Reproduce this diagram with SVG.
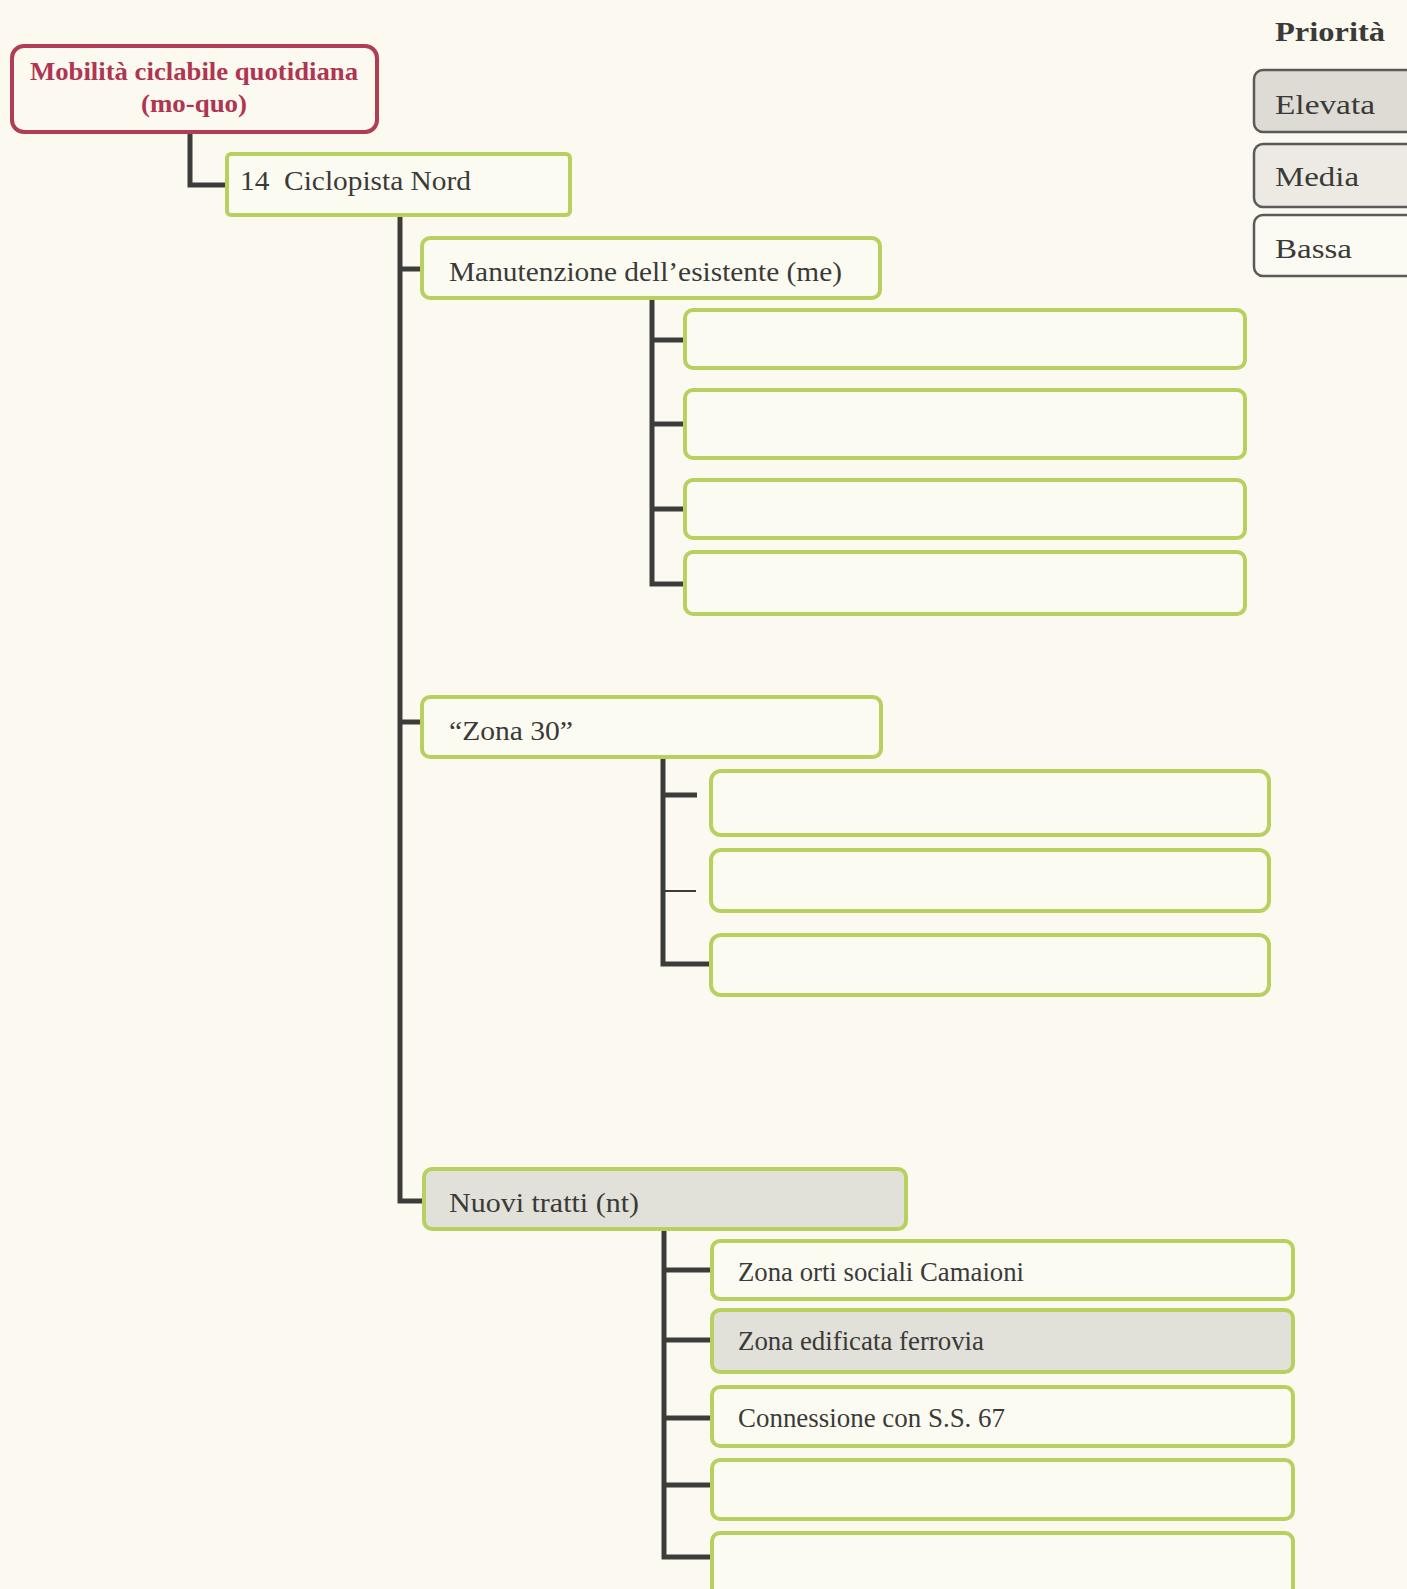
<svg xmlns="http://www.w3.org/2000/svg" width="1407" height="1589" viewBox="0 0 1407 1589">
  <style>
    .bg { fill: #fcfaf0; }
    .node { fill: #fcfbf2; stroke: #b8d060; stroke-width: 4; }
    .node.grey { fill: #e1e0d9; }
    .root { fill: #fcfaf0; stroke: #b23c58; stroke-width: 4; }
    .legend { stroke: #5a5a58; stroke-width: 2.5; }
    .lbl { font-family: "Liberation Serif", "Times New Roman", serif; font-size: 28px; fill: #3a3a38; }
    .rootlbl { font-family: "Liberation Serif", "Times New Roman", serif; font-size: 25px; font-weight: bold; fill: #b03552; }
    .conn { fill: none; stroke: #3c3c3a; stroke-width: 5; stroke-linecap: butt; stroke-linejoin: miter; }
    .thin { stroke-width: 2; }
  </style>

  <rect class="bg" x="0" y="0" width="1407" height="1589"/>

  <!-- connectors -->
  <g id="connectors">
    <path class="conn" d="M190 132 V185 H228"/>
    <path class="conn" d="M400 215 V1201 H424"/>
    <path class="conn" d="M400 269 H422"/>
    <path class="conn" d="M400 722 H422"/>
    <!-- maintenance branch -->
    <path class="conn" d="M652 298 V584 H685"/>
    <path class="conn" d="M652 340 H685"/>
    <path class="conn" d="M652 424 H685"/>
    <path class="conn" d="M652 509 H685"/>
    <!-- zone 30 branch -->
    <path class="conn" d="M663 756 V964 H711"/>
    <path class="conn" d="M663 795 H697"/>
    <path class="conn thin" d="M663 891 H696"/>
    <!-- new stretches branch -->
    <path class="conn" d="M664 1229 V1557 H712"/>
    <path class="conn" d="M664 1270 H712"/>
    <path class="conn" d="M664 1340 H712"/>
    <path class="conn" d="M664 1418 H712"/>
    <path class="conn" d="M664 1485 H712"/>
  </g>

  <!-- root -->
  <g id="n-root">
    <rect class="root" x="12" y="46" width="365" height="86" rx="12"/>
    <text class="rootlbl" x="194" y="80" text-anchor="middle" textLength="328" lengthAdjust="spacingAndGlyphs">Mobilità ciclabile quotidiana</text>
    <text class="rootlbl" x="194" y="112" text-anchor="middle" textLength="106" lengthAdjust="spacingAndGlyphs">(mo-quo)</text>
  </g>

  <g id="n-14">
    <rect class="node" x="227" y="154" width="343" height="61" rx="4"/>
    <text class="lbl" x="240" y="190" textLength="231" lengthAdjust="spacingAndGlyphs">14&#160; Ciclopista Nord</text>
  </g>

  <g id="n-me">
    <rect class="node" x="422" y="238" width="458" height="60" rx="8"/>
    <text class="lbl" x="449" y="281" textLength="393" lengthAdjust="spacingAndGlyphs">Manutenzione dell’esistente (me)</text>
  </g>
  <g id="n-me-1"><rect class="node" x="685" y="310" width="560" height="58" rx="8"/></g>
  <g id="n-me-2"><rect class="node" x="685" y="390" width="560" height="68" rx="8"/></g>
  <g id="n-me-3"><rect class="node" x="685" y="480" width="560" height="58" rx="8"/></g>
  <g id="n-me-4"><rect class="node" x="685" y="552" width="560" height="62" rx="8"/></g>

  <g id="n-z30">
    <rect class="node" x="422" y="697" width="459" height="60" rx="8"/>
    <text class="lbl" x="449" y="740" textLength="124" lengthAdjust="spacingAndGlyphs">“Zona 30”</text>
  </g>
  <g id="n-z30-1"><rect class="node" x="711" y="771" width="558" height="64" rx="10"/></g>
  <g id="n-z30-2"><rect class="node" x="711" y="850" width="558" height="61" rx="10"/></g>
  <g id="n-z30-3"><rect class="node" x="711" y="935" width="558" height="60" rx="10"/></g>

  <g id="n-nt">
    <rect class="node grey" x="424" y="1169" width="482" height="60" rx="8"/>
    <text class="lbl" x="449" y="1212" textLength="190" lengthAdjust="spacingAndGlyphs">Nuovi tratti (nt)</text>
  </g>
  <g id="n-nt-1">
    <rect class="node" x="712" y="1241" width="581" height="58" rx="8"/>
    <text class="lbl" x="738" y="1281" textLength="286" lengthAdjust="spacingAndGlyphs">Zona orti sociali Camaioni</text>
  </g>
  <g id="n-nt-2">
    <rect class="node grey" x="712" y="1310" width="581" height="62" rx="8"/>
    <text class="lbl" x="738" y="1350" textLength="246" lengthAdjust="spacingAndGlyphs">Zona edificata ferrovia</text>
  </g>
  <g id="n-nt-3">
    <rect class="node" x="712" y="1387" width="581" height="59" rx="8"/>
    <text class="lbl" x="738" y="1427" textLength="267" lengthAdjust="spacingAndGlyphs">Connessione con S.S. 67</text>
  </g>
  <g id="n-nt-4"><rect class="node" x="712" y="1460" width="581" height="59" rx="8"/></g>
  <g id="n-nt-5"><rect class="node" x="712" y="1533" width="581" height="70" rx="8"/></g>

  <!-- priority legend -->
  <g id="legend">
    <text class="lbl" x="1275" y="41" font-weight="bold" textLength="110" lengthAdjust="spacingAndGlyphs">Priorità</text>
    <g id="lg-elevata">
      <rect class="legend" x="1254" y="70" width="170" height="62" rx="9" fill="#dddbd4"/>
      <text class="lbl" x="1275" y="114" textLength="100" lengthAdjust="spacingAndGlyphs">Elevata</text>
    </g>
    <g id="lg-media">
      <rect class="legend" x="1254" y="144" width="170" height="63" rx="9" fill="#eceae3"/>
      <text class="lbl" x="1275" y="186" textLength="84" lengthAdjust="spacingAndGlyphs">Media</text>
    </g>
    <g id="lg-bassa">
      <rect class="legend" x="1254" y="215" width="170" height="61" rx="9" fill="#fbfaf3"/>
      <text class="lbl" x="1275" y="258" textLength="77" lengthAdjust="spacingAndGlyphs">Bassa</text>
    </g>
  </g>
</svg>
